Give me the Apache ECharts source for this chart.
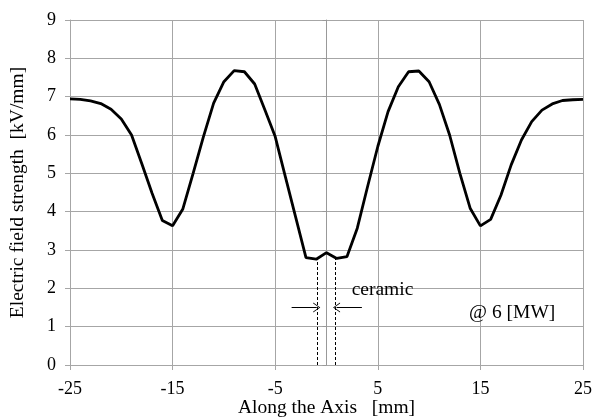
<!DOCTYPE html>
<html>
<head>
<meta charset="utf-8">
<script src="https://cdn.jsdelivr.net/npm/echarts@6/dist/echarts.min.js"></script>
<style>
  html, body { margin: 0; padding: 0; background: #fff; }
  #chart { width: 594px; height: 417px; }
</style>
</head>
<body>
<div id="chart"></div>
<script>
// position along the axis [mm]
const positions = [
  -25, -24, -23, -22, -21, -20, -19, -18, -17, -16, -15, -14, -13, -12, -11, -10, -9, -8, -7, -6,
  -5, -4, -3, -2, -1, 0, 1, 2, 3, 4, 5, 6, 7, 8, 9, 10, 11, 12, 13, 14,
  15, 16, 17, 18, 19, 20, 21, 22, 23, 24, 25
]
// electric field strength [kV/mm]
const fieldValues = [
  6.94, 6.93, 6.89, 6.82, 6.67, 6.42, 6.0, 5.25, 4.48, 3.77, 3.63, 4.07, 5.0, 5.95, 6.83, 7.39, 7.68, 7.65, 7.33, 6.65,
  5.96, 4.9, 3.85, 2.8, 2.76, 2.93, 2.78, 2.83, 3.57, 4.65, 5.7, 6.61, 7.26, 7.65, 7.67, 7.39, 6.8, 6.0, 5.0, 4.09,
  3.63, 3.8, 4.43, 5.22, 5.87, 6.35, 6.65, 6.81, 6.9, 6.92, 6.93
]
const xTicks = [-25, -15, -5, 5, 15, 25]
const yTicks = [0, 1, 2, 3, 4, 5, 6, 7, 8, 9]

// ceramic window edges and annotation positions (data units)
const ceramicEdges = [-0.9, 0.9]
const ceramicTop = 2.77
const arrowY = 1.5
const leftArrow = [-3.4, -0.95]
const rightArrow = [3.45, 0.98]
const ceramicLabel = [2.45, 1.96]
const powerLabel = [13.9, 1.36]

const serif = '"Liberation Serif", "Times New Roman", serif'
const gridColor = '#a6a6a6'

const chart = echarts.init(document.getElementById('chart'))

const chevron = 'path://M0,10 L5,0 L10,10 L9,10 L5,1.8 L1,10 Z'

const option = {
  animation: false,
  grid: { left: 70, right: 11, top: 20, bottom: 52, outerBoundsMode: 'none' },
  xAxis: {
    type: 'value',
    min: xTicks[0],
    max: xTicks[xTicks.length - 1],
    interval: 10,
    name: 'Along the Axis   [mm]',
    nameLocation: 'middle',
    nameGap: 33,
    nameMoveOverlap: false,
    nameTextStyle: { fontFamily: serif, fontSize: 19.5, color: '#000' },
    axisLine: { onZero: false, lineStyle: { color: gridColor, width: 1 } },
    axisTick: { show: true, inside: false, length: 5, lineStyle: { color: gridColor } },
    axisLabel: { fontFamily: serif, fontSize: 18, color: '#000', margin: 15 },
    splitLine: { show: true, lineStyle: { color: gridColor, width: 1 } }
  },
  yAxis: [
    {
      type: 'value',
      min: yTicks[0],
      max: yTicks[yTicks.length - 1],
      interval: 1,
      name: 'Electric field strength  [kV/mm]',
      nameLocation: 'middle',
      nameGap: 42,
      nameMoveOverlap: false,
      nameTextStyle: { fontFamily: serif, fontSize: 19.5, color: '#000' },
      axisLine: { show: true, onZero: false, lineStyle: { color: gridColor, width: 1 } },
      axisTick: { show: true, inside: false, length: 5, lineStyle: { color: gridColor } },
      axisLabel: { fontFamily: serif, fontSize: 18, color: '#000', margin: 14 },
      splitLine: { show: true, lineStyle: { color: gridColor, width: 1 } }
    },
    {
      // axis crossing at x = 0
      type: 'value',
      position: 'left',
      min: yTicks[0],
      max: yTicks[yTicks.length - 1],
      interval: 1,
      axisLine: { show: true, onZero: true, lineStyle: { color: '#999', width: 1 } },
      axisTick: { show: true, inside: false, length: 4, lineStyle: { color: '#999' } },
      axisLabel: { show: false },
      splitLine: { show: false }
    }
  ],
  series: [
    {
      type: 'line',
      data: positions.map((x, i) => [x, fieldValues[i]]),
      showSymbol: false,
      lineStyle: { color: '#000', width: 2.8 },
      z: 5,
      markLine: {
        silent: true,
        animation: false,
        label: { show: false },
        data: [
          [
            { coord: [ceramicEdges[0], 0], symbol: 'none' },
            { coord: [ceramicEdges[0], ceramicTop], symbol: 'none', lineStyle: { color: '#000', width: 1, type: [3, 2] } }
          ],
          [
            { coord: [ceramicEdges[1], 0], symbol: 'none' },
            { coord: [ceramicEdges[1], ceramicTop], symbol: 'none', lineStyle: { color: '#000', width: 1, type: [3, 2] } }
          ],
          [
            { coord: [leftArrow[0], arrowY], symbol: 'none' },
            { coord: [leftArrow[1], arrowY], symbol: chevron, symbolSize: [10, 7], lineStyle: { color: '#000', width: 1, type: 'solid' } }
          ],
          [
            { coord: [rightArrow[0], arrowY], symbol: 'none' },
            { coord: [rightArrow[1], arrowY], symbol: chevron, symbolSize: [10, 7], lineStyle: { color: '#000', width: 1, type: 'solid' } }
          ]
        ]
      }
    }
  ]
}

chart.setOption(option)

// text annotations placed through the axis scales
const ceramicPx = chart.convertToPixel({ gridIndex: 0 }, ceramicLabel)
const powerPx = chart.convertToPixel({ gridIndex: 0 }, powerLabel)
chart.setOption({
  graphic: [
    {
      type: 'text',
      x: ceramicPx[0],
      y: ceramicPx[1],
      style: { text: 'ceramic', font: '19.5px ' + serif, fill: '#000', verticalAlign: 'middle', align: 'left' }
    },
    {
      type: 'text',
      x: powerPx[0],
      y: powerPx[1],
      style: { text: '@ 6 [MW]', font: '19.5px ' + serif, fill: '#000', verticalAlign: 'middle', align: 'left' }
    }
  ]
})
</script>
</body>
</html>
